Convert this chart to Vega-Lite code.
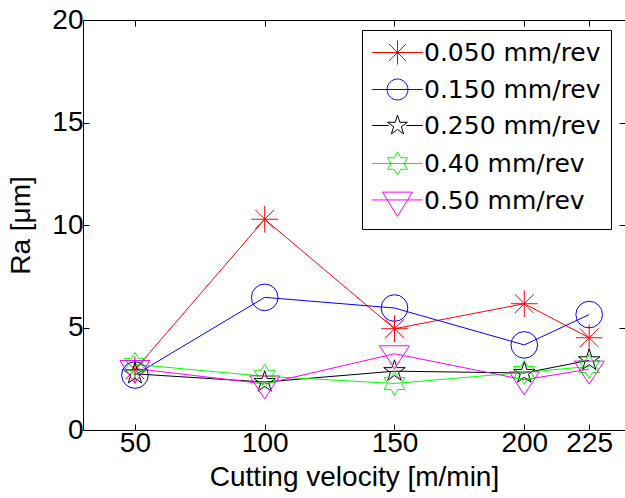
{
  "$schema": "https://vega.github.io/schema/vega-lite/v6.json",
  "autosize": {"type": "none"},
  "padding": {"left": 83, "top": 20, "right": 0, "bottom": 68},
  "width": 542,
  "height": 410,
  "background": "white",
  "data": {"values": [
    {"v": 50, "ra": 2.94, "feed": "0.050 mm/rev"},
    {"v": 100, "ra": 10.28, "feed": "0.050 mm/rev"},
    {"v": 150, "ra": 4.94, "feed": "0.050 mm/rev"},
    {"v": 200, "ra": 6.16, "feed": "0.050 mm/rev"},
    {"v": 225, "ra": 4.5, "feed": "0.050 mm/rev"},
    {"v": 50, "ra": 2.68, "feed": "0.150 mm/rev"},
    {"v": 100, "ra": 6.47, "feed": "0.150 mm/rev"},
    {"v": 150, "ra": 5.95, "feed": "0.150 mm/rev"},
    {"v": 200, "ra": 4.15, "feed": "0.150 mm/rev"},
    {"v": 225, "ra": 5.63, "feed": "0.150 mm/rev"},
    {"v": 50, "ra": 2.74, "feed": "0.250 mm/rev"},
    {"v": 100, "ra": 2.34, "feed": "0.250 mm/rev"},
    {"v": 150, "ra": 2.87, "feed": "0.250 mm/rev"},
    {"v": 200, "ra": 2.78, "feed": "0.250 mm/rev"},
    {"v": 225, "ra": 3.4, "feed": "0.250 mm/rev"},
    {"v": 50, "ra": 3.2, "feed": "0.40 mm/rev"},
    {"v": 100, "ra": 2.62, "feed": "0.40 mm/rev"},
    {"v": 150, "ra": 2.27, "feed": "0.40 mm/rev"},
    {"v": 200, "ra": 2.81, "feed": "0.40 mm/rev"},
    {"v": 225, "ra": 3.1, "feed": "0.40 mm/rev"},
    {"v": 50, "ra": 3.0, "feed": "0.50 mm/rev"},
    {"v": 100, "ra": 2.25, "feed": "0.50 mm/rev"},
    {"v": 150, "ra": 3.72, "feed": "0.50 mm/rev"},
    {"v": 200, "ra": 2.45, "feed": "0.50 mm/rev"},
    {"v": 225, "ra": 2.97, "feed": "0.50 mm/rev"}
  ]},
  "config": {
    "view": {"stroke": null},
    "font": "Liberation Sans",
    "axis": {
      "grid": false,
      "domainColor": "black",
      "domainWidth": 1,
      "tickColor": "black",
      "tickWidth": 1,
      "tickSize": -6,
      "labelColor": "black",
      "titleColor": "black",
      "labelFont": "Liberation Sans",
      "titleFont": "Liberation Sans",
      "labelFontSize": 28,
      "titleFontSize": 28,
      "titleFontWeight": "normal"
    }
  },
  "layer": [
    {
      "mark": {"type": "line", "strokeWidth": 1},
      "encoding": {
        "x": {"field": "v", "type": "quantitative",
          "scale": {"domain": [30, 238.8], "nice": false, "zero": false},
          "axis": {"orient": "bottom", "values": [50, 100, 150, 200, 225], "title": "Cutting velocity [m/min]", "labelPadding": 5, "titlePadding": 6, "labelFlush": false}},
        "y": {"field": "ra", "type": "quantitative",
          "scale": {"domain": [0, 20], "nice": false},
          "axis": {"orient": "left", "values": [0, 5, 10, 15, 20], "title": "Ra [μm]", "labelPadding": 6, "titlePadding": 16, "labelFlush": false}},
        "color": {"field": "feed", "type": "nominal",
          "scale": {"domain": ["0.050 mm/rev", "0.150 mm/rev", "0.250 mm/rev", "0.40 mm/rev", "0.50 mm/rev"], "range": ["#ff0000", "#0000ff", "#000000", "#00ff00", "#ff00ff"]},
          "legend": {
            "title": null, "orient": "none", "legendX": 279, "legendY": 10,
            "fillColor": "white", "strokeColor": "black", "padding": 10,
            "labelFont": "DejaVu Sans", "labelFontSize": 25, "labelColor": "black", "labelLimit": 400,
            "rowPadding": 10, "symbolSize": 484, "symbolOffset": 13, "labelOffset": 14,
            "symbolStrokeWidth": 1,
            "encoding": {"symbols": {
              "fill": {"value": "transparent"},
              "shape": {"value": {"expr": "datum.value === '0.050 mm/rev' ? 'M-2.3,0L2.3,0M-1.1,0L1.1,0M0,-1.1L0,1.1M-0.78,-0.78L0.78,0.78M-0.78,0.78L0.78,-0.78' : datum.value === '0.150 mm/rev' ? 'M-2.3,0L2.3,0M-0.95,0A0.95,0.95,0,1,1,0.95,0A0.95,0.95,0,1,1,-0.95,0Z' : datum.value === '0.250 mm/rev' ? 'M-2.3,0L-0.8,0M0.8,0L2.3,0M0,-0.95L0.214,-0.294L0.903,-0.294L0.345,0.112L0.559,0.769L0,0.363L-0.559,0.769L-0.345,0.112L-0.903,-0.294L-0.214,-0.294Z' : datum.value === '0.40 mm/rev' ? 'M-2.3,0L2.3,0M0,-1.05L0.303,-0.525L0.909,-0.525L0.606,0L0.909,0.525L0.303,0.525L0,1.05L-0.303,0.525L-0.909,0.525L-0.606,0L-0.909,-0.525L-0.303,-0.525Z' : 'M-2.3,-0.05L2.3,-0.05M-1.36,-0.76L1.36,-0.76L0,1.45Z'"}}
            }}
          }}
      }
    },
    {
      "mark": {"type": "point", "filled": false, "strokeWidth": 1, "size": 708, "opacity": 1},
      "encoding": {
        "x": {"field": "v", "type": "quantitative",
          "scale": {"domain": [30, 238.8], "nice": false, "zero": false},
          "axis": {"orient": "top", "values": [50, 100, 150, 200, 225], "labels": false, "title": null}},
        "y": {"field": "ra", "type": "quantitative",
          "scale": {"domain": [0, 20], "nice": false},
          "axis": {"orient": "right", "values": [0, 5, 10, 15, 20], "labels": false, "title": null, "domain": false}},
        "color": {"field": "feed", "type": "nominal",
          "scale": {"domain": ["0.050 mm/rev", "0.150 mm/rev", "0.250 mm/rev", "0.40 mm/rev", "0.50 mm/rev"], "range": ["#ff0000", "#0000ff", "#000000", "#00ff00", "#ff00ff"]}},
        "shape": {"field": "feed", "type": "nominal",
          "scale": {"domain": ["0.50 mm/rev", "0.40 mm/rev", "0.250 mm/rev", "0.150 mm/rev", "0.050 mm/rev"],
            "range": [
              "M-1.13,-0.6L1.13,-0.6L0,1.13Z",
              "M0,-0.9L0.26,-0.45L0.779,-0.45L0.52,0L0.779,0.45L0.26,0.45L0,0.9L-0.26,0.45L-0.779,0.45L-0.52,0L-0.779,-0.45L-0.26,-0.45Z",
              "M0,-0.85L0.191,-0.263L0.808,-0.263L0.309,0.1L0.5,0.688L0,0.325L-0.5,0.688L-0.309,0.1L-0.808,-0.263L-0.191,-0.263Z",
              "circle",
              "M-1,0L1,0M0,-1L0,1M-0.71,-0.71L0.71,0.71M-0.71,0.71L0.71,-0.71"
            ]},
          "legend": null}
      }
    }
  ],
  "resolve": {"axis": {"x": "independent", "y": "independent"}}
}
